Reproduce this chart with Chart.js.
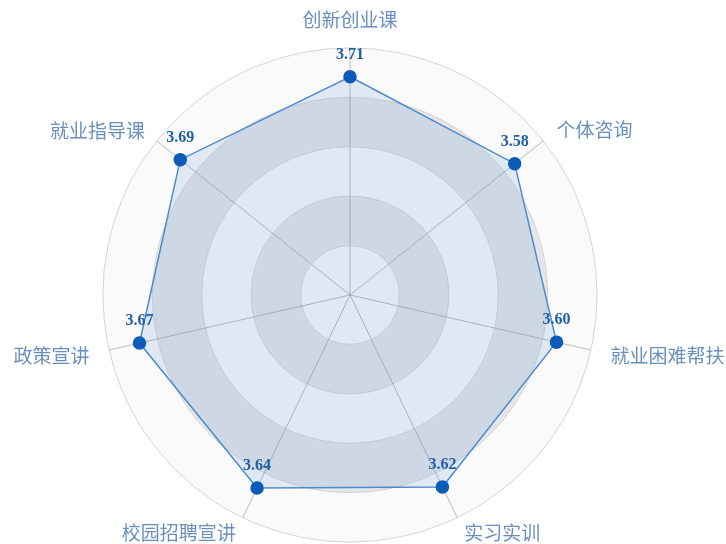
<!DOCTYPE html>
<html>
<head>
<meta charset="utf-8">
<script src="https://cdn.jsdelivr.net/npm/chart.js@4.4.0/dist/chart.umd.min.js"></script>
<style>
  html, body { margin: 0; padding: 0; background: #fff; }
  body { position: relative; width: 726px; height: 544px; overflow: hidden; }
  /* canvas a bit larger than the window so the radar can fill it like the original */
  #wrap { position: absolute; left: -60px; top: 5px; width: 820px; height: 552px; }
</style>
</head>
<body>
<div id="wrap"><canvas id="radarChart"></canvas></div>
<script>
const categories = ['创新创业课', '个体咨询', '就业困难帮扶', '实习实训', '校园招聘宣讲', '政策宣讲', '就业指导课'];
const scores = [3.71, 3.58, 3.60, 3.62, 3.64, 3.67, 3.69];
const scaleMax = 4.2;
const splitCount = 5;
// gap between the outer ring and each category name
const labelGaps = [27, 17, 20, 16, 16, 20, 15];

// alternating rings behind the grid (like a split area)
const bandPlugin = {
    id: 'bands',
    beforeDraw(chart) {
        const s = chart.scales.r;
        const ctx = chart.ctx;
        const step = scaleMax / splitCount;
        for (let i = splitCount - 1; i >= 0; i--) {
            const outer = s.getDistanceFromCenterForValue(step * (i + 1));
            const inner = s.getDistanceFromCenterForValue(step * i);
            ctx.save();
            ctx.beginPath();
            ctx.arc(s.xCenter, s.yCenter, outer, 0, Math.PI * 2);
            ctx.arc(s.xCenter, s.yCenter, inner, 0, Math.PI * 2, true);
            ctx.fillStyle = i % 2 === 0 ? '#fafafa' : '#e4e6e9';
            ctx.fill();
            ctx.restore();
        }
    }
};

// score labels above each point
const valuePlugin = {
    id: 'values',
    afterDatasetsDraw(chart) {
        const ctx = chart.ctx;
        const meta = chart.getDatasetMeta(0);
        ctx.save();
        ctx.font = 'bold 16px "Liberation Serif", "DejaVu Serif", serif';
        ctx.fillStyle = '#1f5ea6';
        ctx.textAlign = 'center';
        ctx.textBaseline = 'middle';
        meta.data.forEach((pt, i) => {
            ctx.fillText(scores[i].toFixed(2), pt.x, pt.y - 22);
        });
        ctx.restore();
    }
};

const radarCtx = document.getElementById('radarChart').getContext('2d');
new Chart(radarCtx, {
    type: 'radar',
    data: {
        labels: categories,
        datasets: [{
            data: scores,
            backgroundColor: 'rgba(80, 140, 210, 0.15)',
            borderColor: '#4f8acb',
            borderWidth: 1.5,
            pointBackgroundColor: '#0b5cb8',
            pointBorderColor: '#0b5cb8',
            pointRadius: 6,
            fill: true
        }]
    },
    options: {
        responsive: true,
        maintainAspectRatio: false,
        animation: false,
        plugins: {
            legend: { display: false },
            tooltip: { enabled: false }
        },
        scales: {
            r: {
                min: 0,
                max: scaleMax,
                ticks: { display: false, stepSize: scaleMax / splitCount },
                grid: { circular: true, color: '#d4d4d4', lineWidth: 1 },
                angleLines: { color: 'rgba(160,160,160,0.7)', lineWidth: 1 },
                pointLabels: {
                    color: '#6a8fbf',
                    padding: (c) => labelGaps[c.index],
                    // tiny line height keeps each name centred on its anchor
                    font: { family: '"Noto Sans CJK SC"', size: 19, lineHeight: 0.1 }
                }
            }
        }
    },
    plugins: [bandPlugin, valuePlugin]
});
</script>
</body>
</html>
